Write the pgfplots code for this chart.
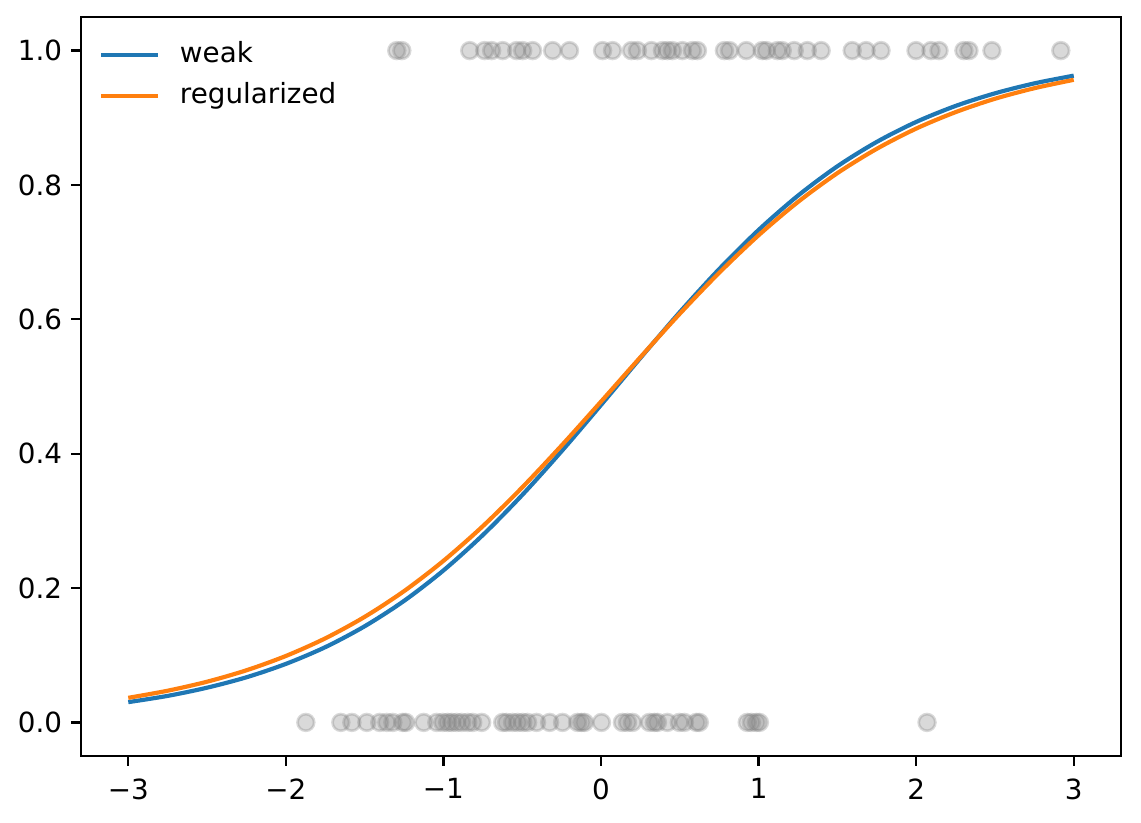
\documentclass[border=0pt]{standalone}
\usepackage{pgfplots}
\pgfplotsset{compat=1.18}
\usepackage{fontspec}
\setmainfont{DejaVu Sans}
\definecolor{mblue}{HTML}{1F77B4}
\definecolor{morange}{HTML}{FF7F0E}
\definecolor{mgray}{HTML}{808080}
\begin{document}
\begin{tikzpicture}
\path[use as bounding box] (-38.88pt,-31.68pt) rectangle (508.8pt,362.88pt);
\begin{axis}[
  at={(0,0)}, anchor=south west,
  scale only axis, width=499.2pt, height=354.72pt,
  xmin=-3.3, xmax=3.3, ymin=-0.05, ymax=1.05,
  xtick={-3,-2,-1,0,1,2,3},
  xticklabels={−3,−2,−1,0,1,2,3},
  ytick={0,0.2,0.4,0.6,0.8,1},
  yticklabels={0.0,0.2,0.4,0.6,0.8,1.0},
  tick align=outside, tick pos=left,
  major tick length=4.67pt,
  tick style={black, line width=1.07pt},
  axis line style={line width=1.07pt},
  ticklabel style={font=\fontsize{13.33}{16}\selectfont},
  xticklabel style={inner ysep=6.0pt},
  yticklabel style={inner xsep=4.2pt},
  legend style={at={(axis description cs:0,1)}, anchor=north west,
    xshift=8.5pt, yshift=-11.6pt,
    draw=none, fill=none, inner sep=0pt,
    font=\fontsize{13.33}{16}\selectfont,
    row sep=6.9pt, column sep=0pt,
    nodes={inner sep=0pt, text height=10pt, text depth=2.8pt},
    /tikz/every odd column/.append style={column sep=9.4pt}},
  legend cell align=left,
  legend image code/.code={\draw[#1] (0pt,0pt) -- (27.4pt,0pt);},
]
\addplot[only marks, mark=*, mark size=4pt, mark options={draw=mgray, fill=mgray, line width=1.33pt, draw opacity=0.3, fill opacity=0.3}, forget plot] coordinates {
(-1.873,0)(-1.651,0)(-1.581,0)(-1.486,0)(-1.404,0)(-1.359,0)(-1.321,0)(-1.258,0)(-1.239,0)
(-1.125,0)(-1.042,0)(-1.004,0)(-0.973,0)(-0.947,0)(-0.916,0)(-0.884,0)(-0.846,0)(-0.814,0)
(-0.757,0)(-0.624,0)(-0.599,0)(-0.561,0)(-0.529,0)(-0.497,0)(-0.466,0)(-0.409,0)(-0.326,0)
(-0.244,0)(-0.149,0)(-0.124,0)(-0.105,0)(0.003,0)(0.136,0)(0.168,0)(0.200,0)(0.307,0)
(0.339,0)(0.358,0)(0.421,0)(0.497,0)(0.529,0)(0.605,0)(0.624,0)(0.928,0)(0.954,0)
(0.986,0)(1.005,0)(2.069,0)
(-1.296,1)(-1.264,1)(-0.833,1)(-0.738,1)(-0.694,1)(-0.624,1)(-0.535,1)(-0.497,1)(-0.434,1)
(-0.307,1)(-0.200,1)(0.010,1)(0.073,1)(0.193,1)(0.231,1)(0.320,1)(0.390,1)(0.421,1)
(0.453,1)(0.516,1)(0.580,1)(0.612,1)(0.783,1)(0.815,1)(0.922,1)(1.023,1)(1.049,1)
(1.119,1)(1.150,1)(1.226,1)(1.309,1)(1.397,1)(1.594,1)(1.682,1)(1.777,1)(1.999,1)
(2.094,1)(2.145,1)(2.303,1)(2.335,1)(2.481,1)(2.918,1)
};
\addplot[mblue, line width=2pt, smooth] coordinates {
(-3,0.0302)(-2.75,0.0395)(-2.5,0.0517)(-2.25,0.0672)(-2,0.0871)(-1.75,0.1120)
(-1.5,0.1431)(-1.25,0.1809)(-1,0.2262)(-0.75,0.2789)(-0.5,0.3385)(-0.25,0.4037)
(0,0.4725)(0.25,0.5424)(0.5,0.6107)(0.75,0.6748)(1,0.7330)(1.25,0.7841)
(1.5,0.8278)(1.75,0.8641)(2,0.8938)(2.25,0.9176)(2.5,0.9364)(2.75,0.9512)(3,0.9627)
};
\addlegendentry{weak}
\addplot[morange, line width=2pt, smooth] coordinates {
(-3,0.0366)(-2.75,0.0472)(-2.5,0.0606)(-2.25,0.0776)(-2,0.0989)(-1.75,0.1251)
(-1.5,0.1571)(-1.25,0.1954)(-1,0.2405)(-0.75,0.2921)(-0.5,0.3498)(-0.25,0.4122)
(0,0.4775)(0.25,0.5436)(0.5,0.6083)(0.75,0.6693)(1,0.7251)(1.25,0.7747)
(1.5,0.8176)(1.75,0.8538)(2,0.8839)(2.25,0.9084)(2.5,0.9283)(2.75,0.9440)(3,0.9565)
};
\addlegendentry{regularized}
\end{axis}
\end{tikzpicture}
\end{document}
